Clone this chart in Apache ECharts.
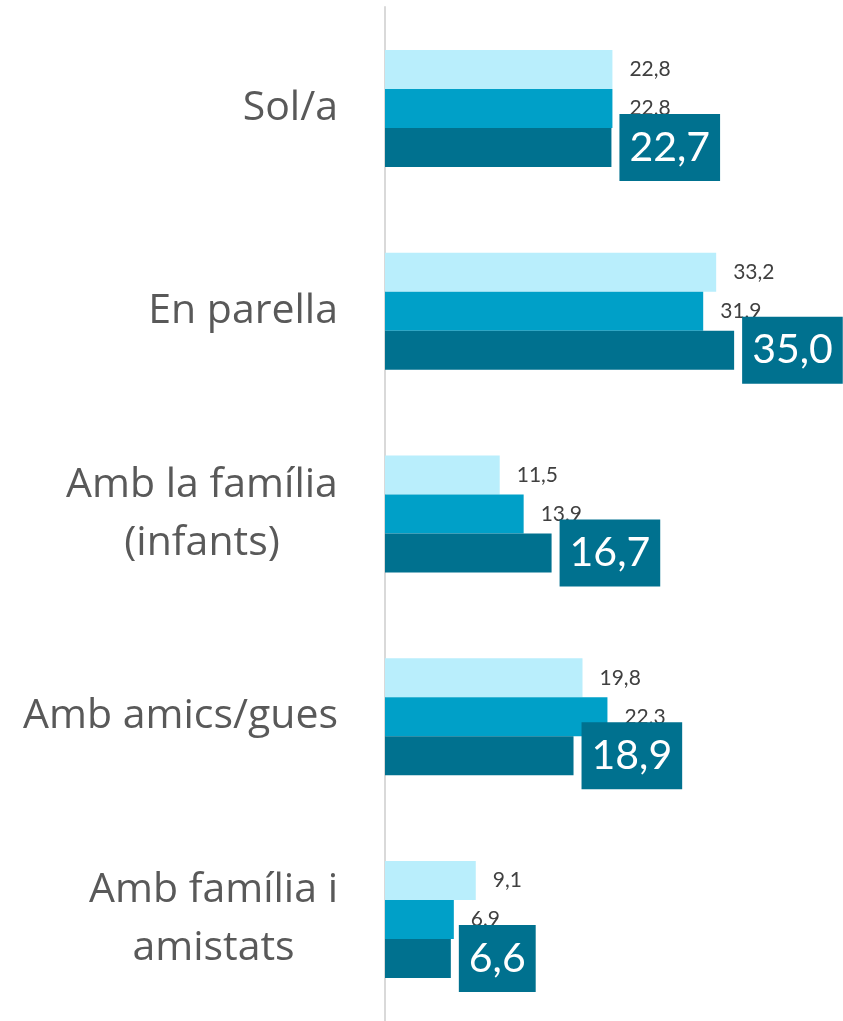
<!DOCTYPE html>
<html>
<head>
<meta charset="utf-8">
<script src="https://cdn.jsdelivr.net/npm/echarts@6/dist/echarts.min.js"></script>
<style>
html, body { margin: 0; padding: 0; background: #fff; }
#chart { width: 843px; height: 1021px; }
</style>
</head>
<body>
<div id="chart"></div>
<script>
var categories = ['Sol/a', 'En parella', 'Amb la família\n(infants)', 'Amb amics/gues', 'Amb família i\namistats'];
var serieA = [22.8, 33.2, 11.5, 19.8, 9.1];
var serieB = [22.8, 31.9, 13.9, 22.3, 6.9];
var serieC = [22.7, 35.0, 16.7, 18.9, 6.6];

var catFont = 'Open Sans';
var catSize = 41;

var chart = echarts.init(document.getElementById('chart'));

function fmt(p) {
    return p.value.toFixed(1).replace('.', ',');
}

// amplada del text, per centrar les línies dins el bloc
var ctx = document.createElement('canvas').getContext('2d');
ctx.font = catSize + 'px "' + catFont + '"';

var rich = {};
function catLabel(v, i) {
    if (v.indexOf('\n') < 0) return v;
    var parts = v.split('\n');
    var w = Math.max.apply(null, parts.map(function (s) { return ctx.measureText(s).width; }));
    var key = 'c' + i;
    rich[key] = { width: Math.ceil(w), align: 'center', fontFamily: catFont, fontSize: catSize, lineHeight: 58, color: '#595959' };
    return parts.map(function (s) { return '{' + key + '|' + s + '}'; }).join('\n');
}
var catText = categories.map(catLabel);

var smallLabel = {
    show: true,
    position: 'right',
    distance: 17,
    fontFamily: 'Lato',
    fontSize: 21,
    color: '#404040',
    formatter: fmt
};

chart.setOption({
    animation: false,
    grid: {
        left: 385,
        right: 59,
        top: 7,
        height: 1016
    },
    xAxis: {
        type: 'value',
        min: 0,
        max: 40,
        show: false
    },
    yAxis: {
        type: 'category',
        inverse: true,
        data: categories,
        axisLine: { show: true, lineStyle: { color: '#d9d9d9', width: 2 } },
        axisTick: { show: false },
        splitLine: { show: false },
        axisLabel: {
            margin: 47,
            fontFamily: catFont,
            fontSize: catSize,
            lineHeight: 58,
            color: '#595959',
            formatter: function (v, i) { return catText[i]; },
            rich: rich
        }
    },
    series: [
        {
            name: 'A',
            type: 'bar',
            barWidth: 39,
            barGap: '0%',
            itemStyle: { color: '#b9eefc' },
            label: smallLabel,
            data: serieA
        },
        {
            name: 'B',
            type: 'bar',
            barWidth: 39,
            barGap: '0%',
            itemStyle: { color: '#00a0c8' },
            label: smallLabel,
            data: serieB
        },
        {
            name: 'C',
            type: 'bar',
            barWidth: 39,
            barGap: '0%',
            itemStyle: { color: '#00718f' },
            label: {
                show: true,
                position: 'right',
                distance: 8,
                fontFamily: 'Lato',
                fontSize: 41,
                lineHeight: 51,
                color: '#ffffff',
                backgroundColor: '#00718f',
                padding: [8, 10, 8, 10],
                formatter: fmt
            },
            data: serieC
        }
    ]
});
</script>
</body>
</html>
